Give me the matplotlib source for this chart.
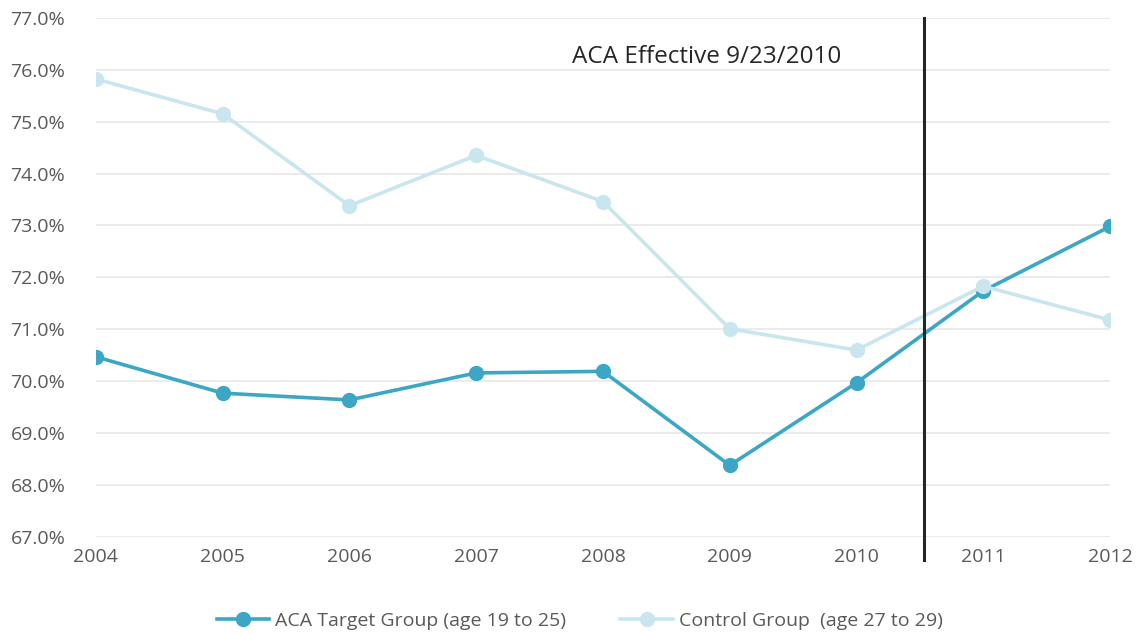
import matplotlib.pyplot as plt
import numpy as np

plt.rcParams['font.family'] = ['Open Sans', 'DejaVu Sans']

years = [2004, 2005, 2006, 2007, 2008, 2009, 2010, 2011, 2012]
target = [70.47, 69.77, 69.64, 70.16, 70.19, 68.38, 69.97, 71.74, 72.98]
control = [75.82, 75.15, 73.38, 74.35, 73.46, 71.01, 70.60, 71.83, 71.18]
aca_date = 2010.53

text_col = '#595959'

fig = plt.figure(figsize=(11.42, 6.34), dpi=100)
ax = fig.add_axes([0.084, 0.153, 0.888, 0.819])

ax.plot(years, target, color='#3ba7c4', lw=2.6, marker='o', ms=10,
        label='ACA Target Group (age 19 to 25)', zorder=3)
ax.plot(years, control, color='#c9e6ef', lw=2.6, marker='o', ms=10,
        label='Control Group  (age 27 to 29)', zorder=4)

ax.set_xlim(2004, 2012)
ax.set_ylim(67, 77)
ax.set_yticks(np.arange(67, 77.1, 1))
ax.set_yticklabels(['%.1f%%' % v for v in np.arange(67, 77.1, 1)])
ax.set_xticks(years)
ax.yaxis.grid(True, color='#e8e8e8', lw=1.2)
ax.set_axisbelow(True)
for s in ax.spines.values():
    s.set_visible(False)
ax.tick_params(length=0, labelsize=14, colors=text_col)
ax.tick_params(axis='x', pad=8)
ax.tick_params(axis='y', pad=22)

ax.axvline(aca_date, ymin=-0.045, ymax=1, color='#262626', lw=2.2, clip_on=False, zorder=5)
ax.text(2008.82, 76.25, 'ACA Effective 9/23/2010', fontsize=17.5, color='#262626',
        ha='center', va='center')

ax.legend(loc='upper center', bbox_to_anchor=(0.477, -0.11), ncol=2, frameon=False,
          fontsize=14, labelcolor=text_col, handlelength=2.7, columnspacing=2.8,
          handletextpad=0.3)

fig.savefig('out.png')
